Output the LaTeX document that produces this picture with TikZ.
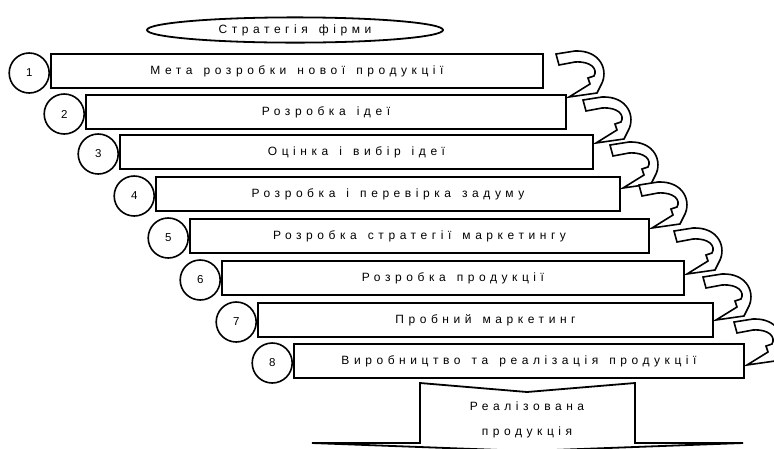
\documentclass[tikz,border=0pt]{standalone}
\usepackage{fontspec}
\setmainfont{Liberation Sans}
\newfontfamily\spaced[LetterSpace=38, WordSpace=1.4]{Liberation Sans}
\usetikzlibrary{shapes.geometric,calc}

\tikzset{
  stepbox/.style={draw, rectangle, line width=2pt, minimum height=34pt, inner sep=0pt, anchor=north west, font=\spaced\fontsize{12}{14}\selectfont},
  numcirc/.style={draw, circle, line width=1.6pt, minimum size=40pt, inner sep=0pt, anchor=east, font=\fontsize{11.5}{13}\selectfont},
  ribbon/.style={draw, fill=white, line width=1.6pt, line join=miter},
  spacedtext/.style={font=\spaced\fontsize{12}{14}\selectfont}
}

\begin{document}
\begin{tikzpicture}[x=1pt, y=-1pt]
        \useasboundingbox (0,0) rectangle (774,448);

        % Стратегія фірми (еліпс угорі)
        \node[draw, ellipse, line width=1.8pt, minimum width=296pt, minimum height=23pt, spacedtext] (strat) at (295,30) {Стратегія фірми};

        % Етапи (сходинки)
        \foreach \n/\l/\t/\w/\txt in {1/50/53/492/{Мета розробки нової продукції},
                2/85/94/480/{Розробка ідеї},
                3/119/134/473/{Оцінка і вибір ідеї},
                4/155/176/464/{Розробка і перевірка задуму},
                5/189/218/459/{Розробка стратегії маркетингу},
                6/221/260/462/{Розробка продукції},
                7/257/302/455/{Пробний маркетинг},
                8/293/343/450/{Виробництво та реалізація продукції}}
            \node[stepbox, minimum width=\w pt] (b\n) at (\l,\t) {\txt};

        % Номери етапів
        \foreach \n in {1,...,8}
            \node[numcirc] (c\n) at ([yshift=-2pt]b\n.west) {\n};

        % Вигнуті стрілки між етапами
        \foreach \m/\d in {2/3, 3/9, 4/12, 5/10, 6/14, 7/18, 8/22}
            \draw[ribbon, shift={($(b\m.north east)+(2,\d)$)}]
                (0,0) -- (28,-4) -- (32,-12) .. controls (40,-26) and (32,-47) .. (6,-46)
                -- (-13,-43) -- (-10,-32) -- (6,-35) .. controls (22,-36) and (29,-28) .. (25,-21)
                -- (19,-19) -- (21,-13) -- cycle;

        % Реалізована продукція
        \draw[line width=1.8pt, line join=miter] (420,383) -- (527,392) -- (635,383) -- (635,443)
            -- (743,443) -- (527,451) -- (312,443) -- (420,443) -- cycle;
        \node[spacedtext] (res1) at (527,406) {Реалізована};
        \node[spacedtext] (res2) at (527,432) {продукція};
\end{tikzpicture}
\end{document}
